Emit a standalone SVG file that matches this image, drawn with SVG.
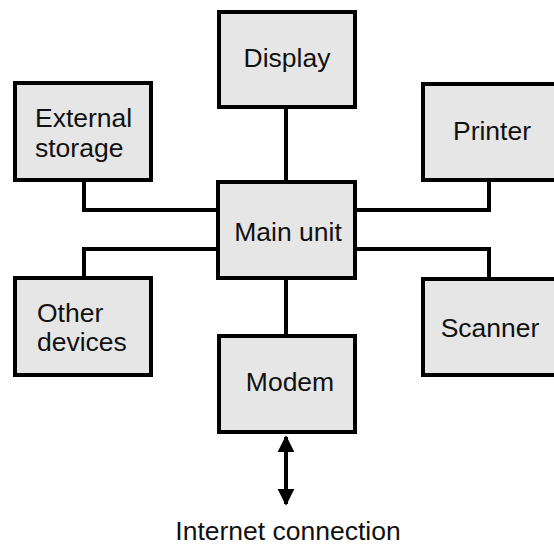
<svg xmlns="http://www.w3.org/2000/svg" width="554" height="545" viewBox="0 0 554 545">
<style>
.box{fill:#e6e6e6;stroke:#000;stroke-width:4}
.wire{fill:none;stroke:#000;stroke-width:4}
text{font-family:"Liberation Sans",Arial,sans-serif;font-size:26.5px;fill:#111}
.c{text-anchor:middle}
</style>
<defs>
<marker id="ah" viewBox="0 0 10 10" refX="9" refY="5" markerWidth="4.3" markerHeight="4.3" orient="auto-start-reverse" markerUnits="strokeWidth">
<path d="M0,0 L10,5 L0,10 z" fill="#000"/>
</marker>
</defs>
<rect width="554" height="545" fill="#fff"/>
<g id="connectors">
<path class="wire" d="M286,107 V182"/>
<path class="wire" d="M286,278 V336"/>
<path class="wire" d="M84,180 V210 H218"/>
<path class="wire" d="M218,249 H84 V278"/>
<path class="wire" d="M489,180 V210 H355"/>
<path class="wire" d="M355,249 H489 V279"/>
<path class="wire" d="M286,437 V504" stroke-width="3" marker-start="url(#ah)" marker-end="url(#ah)"/>
</g>
<g id="display"><rect class="box" x="219" y="12" width="136" height="95"/><text class="c" x="287" y="67">Display</text></g>
<g id="external-storage"><rect class="box" x="15" y="83" width="136" height="97"/><text x="35" y="127">External</text><text x="35" y="157">storage</text></g>
<g id="printer"><rect class="box" x="423" y="84" width="136" height="96"/><text class="c" x="492" y="140">Printer</text></g>
<g id="main-unit"><rect class="box" x="218" y="182" width="137" height="96"/><text class="c" x="288" y="241">Main unit</text></g>
<g id="other-devices"><rect class="box" x="15" y="278" width="136" height="97"/><text x="37" y="322">Other</text><text x="37" y="351">devices</text></g>
<g id="scanner"><rect class="box" x="423" y="279" width="136" height="96"/><text class="c" x="490" y="337">Scanner</text></g>
<g id="modem"><rect class="box" x="219" y="336" width="136" height="96"/><text class="c" x="290" y="391">Modem</text></g>
<g id="internet"><text class="c" x="288" y="540">Internet connection</text></g>
</svg>
